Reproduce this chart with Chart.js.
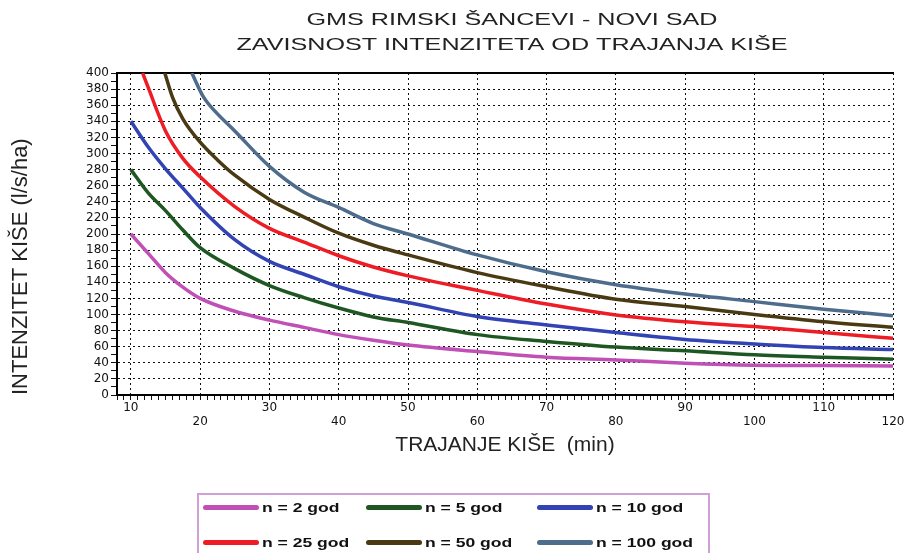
<!DOCTYPE html>
<html>
<head>
<meta charset="utf-8">
<script src="https://cdn.jsdelivr.net/npm/chart.js@4/dist/chart.umd.min.js"></script>
<style>
  html, body { margin: 0; padding: 0; background: #fff; }
  #wrap { position: relative; width: 911px; height: 553px; overflow: hidden; }
  #legend {
    position: absolute; left: 197px; top: 493px; width: 513px; height: 80px;
    box-sizing: border-box; border: 2px solid #cf9fd6; padding: 0 0 0 4px;
    display: grid; grid-template-columns: 163px 171px auto; grid-auto-rows: 24px; row-gap: 11px;
    font: bold 13px "Liberation Sans", Arial, sans-serif; color: #111;
  }
  .item { display: flex; align-items: center; white-space: pre; }
  .swatch { width: 56px; height: 5px; border-radius: 3px; margin-right: 3px; flex: none; }
  .lbl { display: inline-block; transform: scaleX(1.35); transform-origin: left center; }
</style>
</head>
<body>
<div id="wrap">
  <canvas id="myChart" width="911" height="553"></canvas>
  <div id="legend"></div>
</div>
<script>
// title lines + axis titles
const titleLines = ["GMS RIMSKI ŠANCEVI - NOVI SAD", "ZAVISNOST INTENZITETA OD TRAJANJA KIŠE"];
const xTitle = "TRAJANJE KIŠE  (min)";
const yTitle = "INTENZITET KIŠE (l/s/ha)";

const seriesLabels = ["n = 2 god", "n = 5 god", "n = 10 god", "n = 25 god", "n = 50 god", "n = 100 god"];
const seriesColors = ["#c04fb6", "#1f5723", "#3243b3", "#ee1d25", "#4a3a13", "#4e6c8c"];

// duration (min) / intensity (l/s/ha)
const t2 = [10, 12.5, 15, 17.5, 20, 25, 30, 35, 40, 45, 50, 60, 70, 80, 90, 100, 110, 120];
const i2 = [200, 176, 152, 134, 120, 104, 93, 84, 75, 68, 62, 54, 47, 43.5, 39.5, 37, 36.5, 36];

const t5 = [10, 12.5, 15, 17.5, 20, 25, 30, 35, 40, 45, 50, 60, 70, 80, 90, 100, 110, 120];
const i5 = [280, 251, 229, 205, 183, 157, 136, 121, 108, 97, 90, 75, 66.5, 59.5, 55, 50, 47, 44.5];

const t10 = [10, 12.5, 15, 17.5, 20, 25, 30, 35, 40, 45, 50, 60, 70, 80, 90, 100, 110, 120];
const i10 = [340, 308, 281, 257, 233, 193, 166, 150, 134.5, 123, 115, 97.5, 87, 77.5, 69, 63.5, 59, 56.5];

const t25 = [11.7, 12.5, 15, 17.5, 20, 25, 30, 35, 40, 45, 50, 60, 70, 80, 90, 100, 110, 120];
const i25 = [400, 382, 328, 294, 271, 234, 207, 190, 173, 159, 148, 130, 113, 99.5, 91, 85, 77.5, 70.5];

const t50 = [14.9, 16, 17.5, 20, 22.5, 25, 30, 35, 40, 45, 50, 60, 70, 80, 90, 100, 110, 120];
const i50 = [400, 370, 343, 314, 292, 273, 243, 221, 201, 186, 174, 152, 134.5, 119, 110, 100, 91, 84];

const t100 = [18.8, 20.5, 22.2, 25, 30, 35, 40, 45, 50, 60, 70, 80, 90, 100, 110, 120];
const i100 = [400, 370, 352, 328, 284, 252, 233, 213, 200, 174, 153, 137, 125.5, 116, 106.5, 98.5];

const allT = [t2, t5, t10, t25, t50, t100];
const allI = [i2, i5, i10, i25, i50, i100];

const toPoints = (ts, vals) => ts.map((t, k) => ({ x: t, y: vals[k] }));

const datasets = seriesLabels.map((label, k) => ({
  label: label,
  data: toPoints(allT[k], allI[k]),
  borderColor: seriesColors[k],
  backgroundColor: seriesColors[k],
  borderWidth: 3.5,
  pointRadius: 0,
  cubicInterpolationMode: "monotone",
  fill: false,
}));

const clear = "rgba(0,0,0,0)";
const tickFont = { family: "DejaVu Sans", size: 12 };

// title drawn wide, like the original
const titlePlugin = {
  id: "wideTitle",
  afterDraw(chart) {
    const ctx = chart.ctx;
    const cx = 512;
    ctx.save();
    ctx.font = '17px "Liberation Sans", Arial, sans-serif';
    ctx.fillStyle = "#222";
    ctx.textAlign = "center";
    ctx.textBaseline = "middle";
    titleLines.forEach((line, k) => {
      ctx.save();
      ctx.translate(cx, 20 + k * 25);
      ctx.scale(1.48, 1);
      ctx.fillText(line, 0, 0);
      ctx.restore();
    });
    ctx.restore();
  },
};

const ctx = document.getElementById("myChart").getContext("2d");
const myChart = new Chart(ctx, {
  type: "line",
  data: { datasets: datasets },
  plugins: [titlePlugin],
  options: {
    responsive: false,
    animation: false,
    layout: { padding: { top: 73, left: 0, right: 18, bottom: 83 } },
    plugins: {
      legend: { display: false },
      tooltip: { enabled: false },
    },
    scales: {
      // main x axis: minor ticks every minute, labels 10, 30, 50 ...
      x: {
        type: "linear",
        position: "bottom",
        weight: 0,
        min: 8,
        max: 120,
        afterFit: (scale) => { scale.height = 20; },
        ticks: {
          stepSize: 1,
          autoSkip: false,
          maxRotation: 0,
          minRotation: 0,
          padding: 1,
          color: "#111",
          font: tickFont,
          callback: (v) => (v % 20 === 10 ? String(v) : ""),
        },
        grid: {
          color: (c) => (c.tick && c.tick.value % 10 === 0 && c.tick.value > 8 ? "#111" : clear),
          lineWidth: 1,
          tickColor: "#111",
          tickLength: 5,
          tickWidth: 1,
        },
        border: { color: "#000", width: 2, dash: [2, 3] },
      },
      // second label row: 20, 40, 60 ... and the axis title
      xLow: {
        type: "linear",
        position: "bottom",
        weight: 1,
        min: 8,
        max: 120,
        afterFit: (scale) => { scale.height = 55; },
        ticks: {
          stepSize: 10,
          autoSkip: false,
          maxRotation: 0,
          minRotation: 0,
          padding: 0,
          color: "#111",
          font: tickFont,
          callback: (v) => (v % 20 === 0 ? String(v) : ""),
        },
        grid: { display: false, drawTicks: false },
        border: { display: false },
        title: {
          display: true,
          text: xTitle,
          color: "#222",
          font: { family: "Liberation Sans", size: 21 },
          padding: { top: 0, bottom: 12 },
        },
      },
      xTop: {
        type: "linear",
        position: "top",
        min: 8,
        max: 120,
        afterFit: (scale) => { scale.height = 0; },
        ticks: { display: false },
        grid: { display: false, drawTicks: false },
        border: { display: true, color: "#000", width: 2 },
      },
      y: {
        min: 0,
        max: 400,
        afterFit: (scale) => { scale.width = 117; },
        ticks: {
          stepSize: 10,
          autoSkip: false,
          padding: 2,
          color: "#111",
          font: tickFont,
          callback: (v) => (v % 20 === 0 ? String(v) : ""),
        },
        grid: {
          color: (c) => (c.tick && c.tick.value % 20 === 0 && c.tick.value > 0 && c.tick.value < 400 ? "#111" : clear),
          lineWidth: 1,
          tickColor: "#111",
          tickLength: 6,
        },
        border: { color: "#000", width: 2, dash: [2, 3] },
        title: {
          display: true,
          text: yTitle,
          align: "start",
          color: "#222",
          font: { family: "Liberation Sans", size: 22 },
          padding: { top: 8, bottom: 0 },
        },
      },
    },
  },
});

// legend box under the chart, built from the datasets
const legendEl = document.getElementById("legend");
myChart.data.datasets.forEach((ds) => {
  const item = document.createElement("div");
  item.className = "item";
  const sw = document.createElement("span");
  sw.className = "swatch";
  sw.style.background = ds.borderColor;
  const txt = document.createElement("span");
  txt.className = "lbl";
  txt.textContent = ds.label;
  item.appendChild(sw);
  item.appendChild(txt);
  legendEl.appendChild(item);
});
</script>
</body>
</html>
